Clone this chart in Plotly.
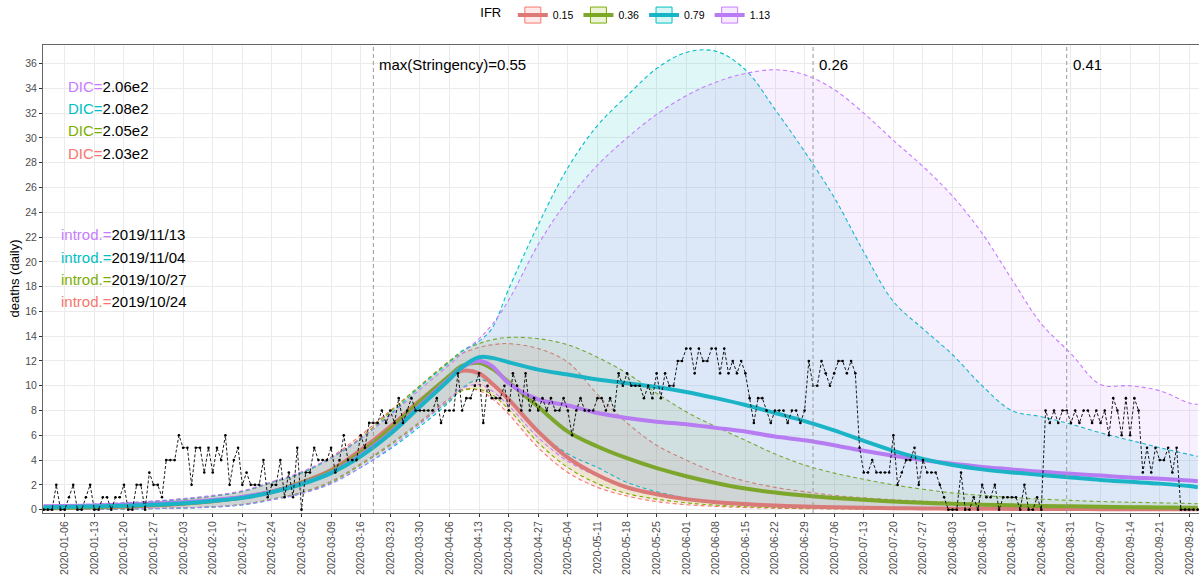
import plotly.graph_objects as go
import pandas as pd

# ---------------- data ----------------
start_date = "2020-01-01"
deaths_daily = [
    0, 0, 0, 2, 0, 0, 1, 2, 0, 0,
    1, 2, 0, 0, 1, 1, 0, 1, 1, 2,
    0, 0, 2, 2, 0, 3, 2, 2, 1, 4,
    4, 4, 6, 5, 5, 2, 5, 5, 3, 5,
    3, 5, 4, 6, 2, 4, 5, 2, 3, 2,
    2, 2, 4, 1, 2, 2, 4, 1, 3, 1,
    5, 0, 3, 3, 5, 4, 4, 4, 5, 3,
    4, 6, 4, 4, 4, 6, 5, 7, 7, 7,
    8, 7, 8, 7, 9, 7, 8, 9, 8, 8,
    8, 8, 8, 9, 7, 8, 8, 8, 11, 8,
    9, 9, 10, 11, 7, 10, 9, 9, 9, 10,
    8, 11, 10, 8, 11, 8, 9, 8, 9, 8,
    9, 8, 8, 9, 8, 6, 8, 9, 8, 8,
    8, 9, 9, 8, 9, 8, 11, 10, 11, 10,
    10, 10, 9, 10, 9, 11, 9, 11, 10, 10,
    12, 12, 13, 13, 11, 13, 12, 12, 13, 13,
    11, 13, 11, 12, 11, 12, 11, 9, 7, 9,
    9, 8, 7, 8, 8, 8, 7, 8, 8, 7,
    8, 12, 10, 10, 12, 11, 10, 11, 12, 12,
    11, 12, 11, 5, 3, 3, 4, 3, 3, 3,
    3, 6, 2, 3, 4, 4, 5, 2, 4, 3,
    3, 3, 2, 1, 0, 0, 0, 3, 0, 0,
    1, 0, 2, 1, 1, 2, 0, 1, 1, 1,
    1, 0, 2, 0, 0, 1, 0, 8, 7, 8,
    7, 8, 8, 7, 8, 7, 8, 8, 7, 8,
    7, 8, 6, 9, 8, 6, 9, 6, 9, 8,
    3, 5, 3, 5, 4, 4, 5, 3, 5, 0,
    0, 0, 0, 0,
]

curve_dates = [
    "2020-01-01", "2020-01-06", "2020-01-13", "2020-01-20", "2020-01-27",
    "2020-02-03", "2020-02-10", "2020-02-17", "2020-02-24", "2020-03-02",
    "2020-03-09", "2020-03-16", "2020-03-23", "2020-03-30", "2020-04-06",
    "2020-04-09", "2020-04-13", "2020-04-16", "2020-04-20", "2020-04-27",
    "2020-05-04", "2020-05-11", "2020-05-18", "2020-05-25", "2020-06-01",
    "2020-06-08", "2020-06-15", "2020-06-22", "2020-06-29", "2020-07-06",
    "2020-07-13", "2020-07-20", "2020-07-27", "2020-08-03", "2020-08-10",
    "2020-08-17", "2020-08-24", "2020-08-31", "2020-09-07", "2020-09-14",
    "2020-09-21", "2020-09-28", "2020-09-30",
]

ifr_levels = ["0.15", "0.36", "0.79", "1.13"]

median_015 = [0.1, 0.13, 0.18, 0.25, 0.34, 0.48, 0.68, 0.98, 1.45, 2.2,
              3.2, 4.8, 6.7, 8.8, 10.7, 11.2, 11.0, 10.2, 8.9, 6.3,
              4.2, 2.8, 1.8, 1.25, 0.85, 0.6, 0.45, 0.33, 0.25, 0.19,
              0.15, 0.12, 0.1, 0.08, 0.07, 0.06, 0.05, 0.05, 0.04, 0.04,
              0.03, 0.03, 0.03]
median_036 = [0.12, 0.16, 0.21, 0.28, 0.37, 0.5, 0.7, 1.0, 1.45, 2.15,
              3.1, 4.6, 6.5, 8.7, 10.8, 11.6, 11.85, 11.4, 10.3, 8.3,
              6.3, 5.1, 4.15, 3.35, 2.7, 2.15, 1.7, 1.38, 1.14, 0.95,
              0.8, 0.66, 0.55, 0.47, 0.4, 0.35, 0.3, 0.27, 0.24, 0.2,
              0.18, 0.16, 0.15]
median_079 = [0.2, 0.22, 0.26, 0.32, 0.4, 0.52, 0.7, 0.95, 1.4, 2.05,
              2.95, 4.3, 6.1, 8.3, 10.5, 11.5, 12.3, 12.25, 11.9, 11.3,
              10.9, 10.5, 10.2, 9.9, 9.5, 9.0, 8.45, 7.8, 7.15, 6.4,
              5.55, 4.75, 4.1, 3.6, 3.25, 3.0, 2.8, 2.6, 2.4, 2.25,
              2.1, 1.9, 1.8]
median_113 = [0.28, 0.3, 0.34, 0.4, 0.48, 0.6, 0.78, 1.03, 1.45, 2.1,
              3.0, 4.4, 6.2, 8.4, 10.6, 11.5, 12.0, 11.6, 10.2, 8.9,
              8.4, 7.8, 7.4, 7.1, 6.9, 6.6, 6.3, 5.9, 5.6, 5.2,
              4.75, 4.35, 4.0, 3.7, 3.45, 3.25, 3.05, 2.9, 2.75, 2.6,
              2.5, 2.35, 2.3]

lower_015 = [0.02, 0.03, 0.04, 0.06, 0.09, 0.14, 0.23, 0.42, 0.85, 1.4,
             2.3, 3.7, 5.3, 7.1, 9.0, 9.7, 9.6, 9.0, 7.7, 5.0,
             3.0, 1.8, 1.1, 0.65, 0.4, 0.26, 0.17, 0.11, 0.08, 0.06,
             0.04, 0.03, 0.03, 0.02, 0.02, 0.02, 0.01, 0.01, 0.01, 0.01,
             0.01, 0.01, 0.01]
lower_036 = [0.02, 0.03, 0.04, 0.06, 0.09, 0.14, 0.23, 0.42, 0.85, 1.35,
             2.2, 3.6, 5.2, 7.0, 8.8, 9.6, 9.7, 9.3, 8.1, 5.4,
             3.4, 2.1, 1.3, 0.85, 0.55, 0.36, 0.24, 0.16, 0.11, 0.08,
             0.06, 0.05, 0.04, 0.03, 0.03, 0.02, 0.02, 0.02, 0.02, 0.01,
             0.01, 0.01, 0.01]
lower_079 = [0.02, 0.03, 0.04, 0.05, 0.08, 0.12, 0.2, 0.38, 0.78, 1.3,
             2.1, 3.4, 4.9, 6.7, 8.7, 9.8, 10.5, 10.1, 8.9, 6.3,
             4.5, 3.4, 2.2, 1.45, 0.95, 0.65, 0.45, 0.32, 0.23, 0.17,
             0.13, 0.1, 0.08, 0.06, 0.05, 0.04, 0.04, 0.03, 0.03, 0.03,
             0.02, 0.02, 0.02]
lower_113 = [0.03, 0.04, 0.05, 0.07, 0.1, 0.14, 0.22, 0.4, 0.8, 1.3,
             2.1, 3.4, 5.0, 6.9, 8.9, 9.8, 10.1, 9.6, 8.4, 5.8,
             3.9, 2.7, 1.85, 1.25, 0.85, 0.6, 0.42, 0.3, 0.22, 0.16,
             0.12, 0.09, 0.07, 0.06, 0.05, 0.04, 0.04, 0.03, 0.03, 0.03,
             0.02, 0.02, 0.02]

upper_015 = [0.3, 0.33, 0.4, 0.5, 0.63, 0.82, 1.08, 1.45, 2.2, 3.0,
             4.25, 6.0, 8.0, 10.0, 12.0, 12.6, 13.1, 13.3, 13.4, 13.0,
             11.9, 9.3, 7.0, 5.2, 4.0, 3.0, 2.3, 1.8, 1.45, 1.15,
             0.95, 0.8, 0.68, 0.58, 0.5, 0.43, 0.38, 0.34, 0.3, 0.27,
             0.25, 0.23, 0.22]
upper_036 = [0.32, 0.35, 0.42, 0.52, 0.66, 0.85, 1.1, 1.48, 2.2, 2.95,
             4.2, 5.8, 7.9, 10.0, 12.0, 12.8, 13.4, 13.7, 13.9, 13.8,
             13.3, 12.3, 11.0, 9.4, 7.9, 6.7, 5.6, 4.5, 3.6, 2.95,
             2.45, 2.0, 1.65, 1.35, 1.15, 0.98, 0.85, 0.75, 0.66, 0.6,
             0.55, 0.5, 0.48]
upper_079 = [0.33, 0.36, 0.43, 0.53, 0.67, 0.86, 1.1, 1.48, 2.2, 2.95,
             4.15, 5.7, 7.7, 9.9, 11.9, 12.8, 13.6, 14.6, 17.8, 23.0,
             27.6, 31.0, 33.4, 35.6, 36.9, 37.0, 35.5, 32.3, 28.9, 25.2,
             20.8, 16.8, 14.6, 12.5, 10.0, 8.0, 7.5, 6.9, 6.2, 5.6,
             5.0, 4.45, 4.3]
upper_113 = [0.35, 0.38, 0.45, 0.55, 0.7, 0.9, 1.15, 1.52, 2.25, 3.05,
             4.2, 5.75, 7.6, 9.7, 11.7, 12.6, 13.8, 14.9, 16.9, 21.4,
             25.0, 27.8, 30.0, 31.9, 33.4, 34.5, 35.2, 35.5, 35.1, 33.9,
             32.0, 29.8, 27.7, 25.3, 22.3, 18.6, 15.0, 12.6, 10.1, 10.0,
             9.6, 8.6, 8.5]

dic_labels = ["2.06e2", "2.08e2", "2.05e2", "2.03e2"]            # 1.13, 0.79, 0.36, 0.15
introd_labels = ["2019/11/13", "2019/11/04", "2019/10/27", "2019/10/24"]
stringency_dates = ["2020-03-19", "2020-07-01", "2020-08-30"]
stringency_labels = ["max(Stringency)=0.55", "0.26", "0.41"]

# ---------------- styles ----------------
base_rgb = {"0.15": (248, 118, 109), "0.36": (124, 174, 0),
            "0.79": (0, 191, 196), "1.13": (199, 124, 255)}
hex_col = {"0.15": "#F8766D", "0.36": "#7CAE00", "0.79": "#00BFC4", "1.13": "#C77CFF"}
median_col = {"0.15": "#D97A79", "0.36": "#7CA62C", "0.79": "#1BB4C6", "1.13": "#B77CF2"}
medians = {"0.15": median_015, "0.36": median_036, "0.79": median_079, "1.13": median_113}
lowers = {"0.15": lower_015, "0.36": lower_036, "0.79": lower_079, "1.13": lower_113}
uppers = {"0.15": upper_015, "0.36": upper_036, "0.79": upper_079, "1.13": upper_113}

FONT = "Liberation Sans, Arial, sans-serif"
dates = pd.to_datetime(curve_dates)
obs_dates = pd.date_range(start_date, periods=len(deaths_daily), freq="D")

fig = go.Figure()

def rgba(rgb, a):
    return "rgba(%d,%d,%d,%.3f)" % (rgb[0], rgb[1], rgb[2], a)

# ribbons
for lev in ifr_levels:
    fig.add_trace(go.Scatter(
        x=dates, y=lowers[lev], mode="lines",
        line=dict(color=hex_col[lev], width=1.1, dash="4px,3px", shape="spline"),
        showlegend=False, hoverinfo="skip"))
    fig.add_trace(go.Scatter(
        x=dates, y=uppers[lev], mode="lines", fill="tonexty",
        fillcolor=rgba(base_rgb[lev], 0.12),
        line=dict(color=hex_col[lev], width=1.1, dash="4px,3px", shape="spline"),
        showlegend=False, hoverinfo="skip"))

# medians
for lev in ["0.15", "0.36", "1.13", "0.79"]:
    fig.add_trace(go.Scatter(
        x=dates, y=medians[lev], mode="lines",
        line=dict(color=median_col[lev], width=4, shape="spline"),
        showlegend=False))

# observed
fig.add_trace(go.Scatter(
    x=obs_dates, y=deaths_daily, mode="lines+markers",
    line=dict(color="black", width=0.9, dash="3px,2px"),
    marker=dict(color="black", size=2.6),
    showlegend=False))

# legend-only entries
for lev in ifr_levels:
    fig.add_trace(go.Scatter(
        x=[None], y=[None], mode="lines+markers", name=lev,
        line=dict(color=median_col[lev], width=4),
        marker=dict(symbol="square", size=19, color=rgba(base_rgb[lev], 0.15),
                    line=dict(color=hex_col[lev], width=1)),
        showlegend=True))

# vertical stringency lines
shapes = []
annotations = []
for d, lab in zip(stringency_dates, stringency_labels):
    shapes.append(dict(type="line", xref="x", yref="paper", x0=d, x1=d, y0=0, y1=1,
                       line=dict(color="#9A9A9A", width=1, dash="4px,3px"), layer="above"))
    annotations.append(dict(x=d, y=35.9, xref="x", yref="y", text=lab, showarrow=False,
                            xanchor="left", yanchor="middle", xshift=4,
                            font=dict(family=FONT, size=15, color="black")))

# DIC / introd. labels
PL, PR, PT, PB = 43.3, 1199.0, 45.0, 513.3
def px2paper(px, py):
    return (px - PL) / (PR - PL), (PB - py) / (PB - PT)

label_cols = [hex_col["1.13"], hex_col["0.79"], hex_col["0.36"], hex_col["0.15"]]
dic_y = [86.7, 109.0, 130.7, 153.3]
intro_y = [234.3, 257.3, 279.3, 301.7]
for col, lab, py in zip(label_cols, dic_labels, dic_y):
    xp, yp = px2paper(66.5, py)
    annotations.append(dict(x=xp, y=yp, xref="paper", yref="paper", showarrow=False,
                            xanchor="left", yanchor="middle",
                            text="<span style='color:%s'>DIC=</span>%s" % (col, lab),
                            font=dict(family=FONT, size=15, color="black")))
for col, lab, py in zip(label_cols, introd_labels, intro_y):
    xp, yp = px2paper(59.5, py)
    annotations.append(dict(x=xp, y=yp, xref="paper", yref="paper", showarrow=False,
                            xanchor="left", yanchor="middle",
                            text="<span style='color:%s'>introd.=</span>%s" % (col, lab),
                            font=dict(family=FONT, size=15, color="black")))

# y-axis title
yx, yy = px2paper(15, 279)
annotations.append(dict(x=yx, y=yy, xref="paper", yref="paper", showarrow=False,
                        text="deaths (daily)", textangle=-90,
                        xanchor="center", yanchor="middle",
                        font=dict(family=FONT, size=13, color="black")))

fig.update_layout(
    width=1199, height=575,
    margin=dict(l=43, r=0, t=45, b=62, pad=0),
    paper_bgcolor="white", plot_bgcolor="white",
    font=dict(family=FONT, size=11, color="black"),
    shapes=shapes, annotations=annotations,
    legend=dict(orientation="h", x=0.505, xanchor="center", y=1.064, yanchor="middle",
                title=dict(text="IFR ", font=dict(family=FONT, size=13), side="left"),
                font=dict(family=FONT, size=10.5, color="black"),
                bgcolor="rgba(0,0,0,0)", itemwidth=30, traceorder="normal"),
)

fig.update_xaxes(
    type="date", range=["2019-12-31 20:30", "2020-09-30 07:00"],
    tick0="2020-01-06", dtick=7 * 86400000, tickformat="%Y-%m-%d", tickangle=-90,
    tickfont=dict(family=FONT, size=10.5, color="#4D4D4D"),
    ticks="outside", ticklen=3, tickcolor="#333333",
    showgrid=True, gridcolor="#EBEBEB", gridwidth=1,
    showline=True, linecolor="#666666", linewidth=1, mirror=True,
    zeroline=False, automargin=False)
fig.update_yaxes(
    range=[-0.27, 37.5], tickmode="array", tickvals=list(range(0, 37, 2)),
    tickfont=dict(family=FONT, size=10.5, color="#4D4D4D"),
    ticks="outside", ticklen=3, tickcolor="#333333",
    showgrid=True, gridcolor="#EBEBEB", gridwidth=1,
    showline=True, linecolor="#666666", linewidth=1, mirror=True,
    zeroline=False, automargin=False)

fig.write_html("out.html")
